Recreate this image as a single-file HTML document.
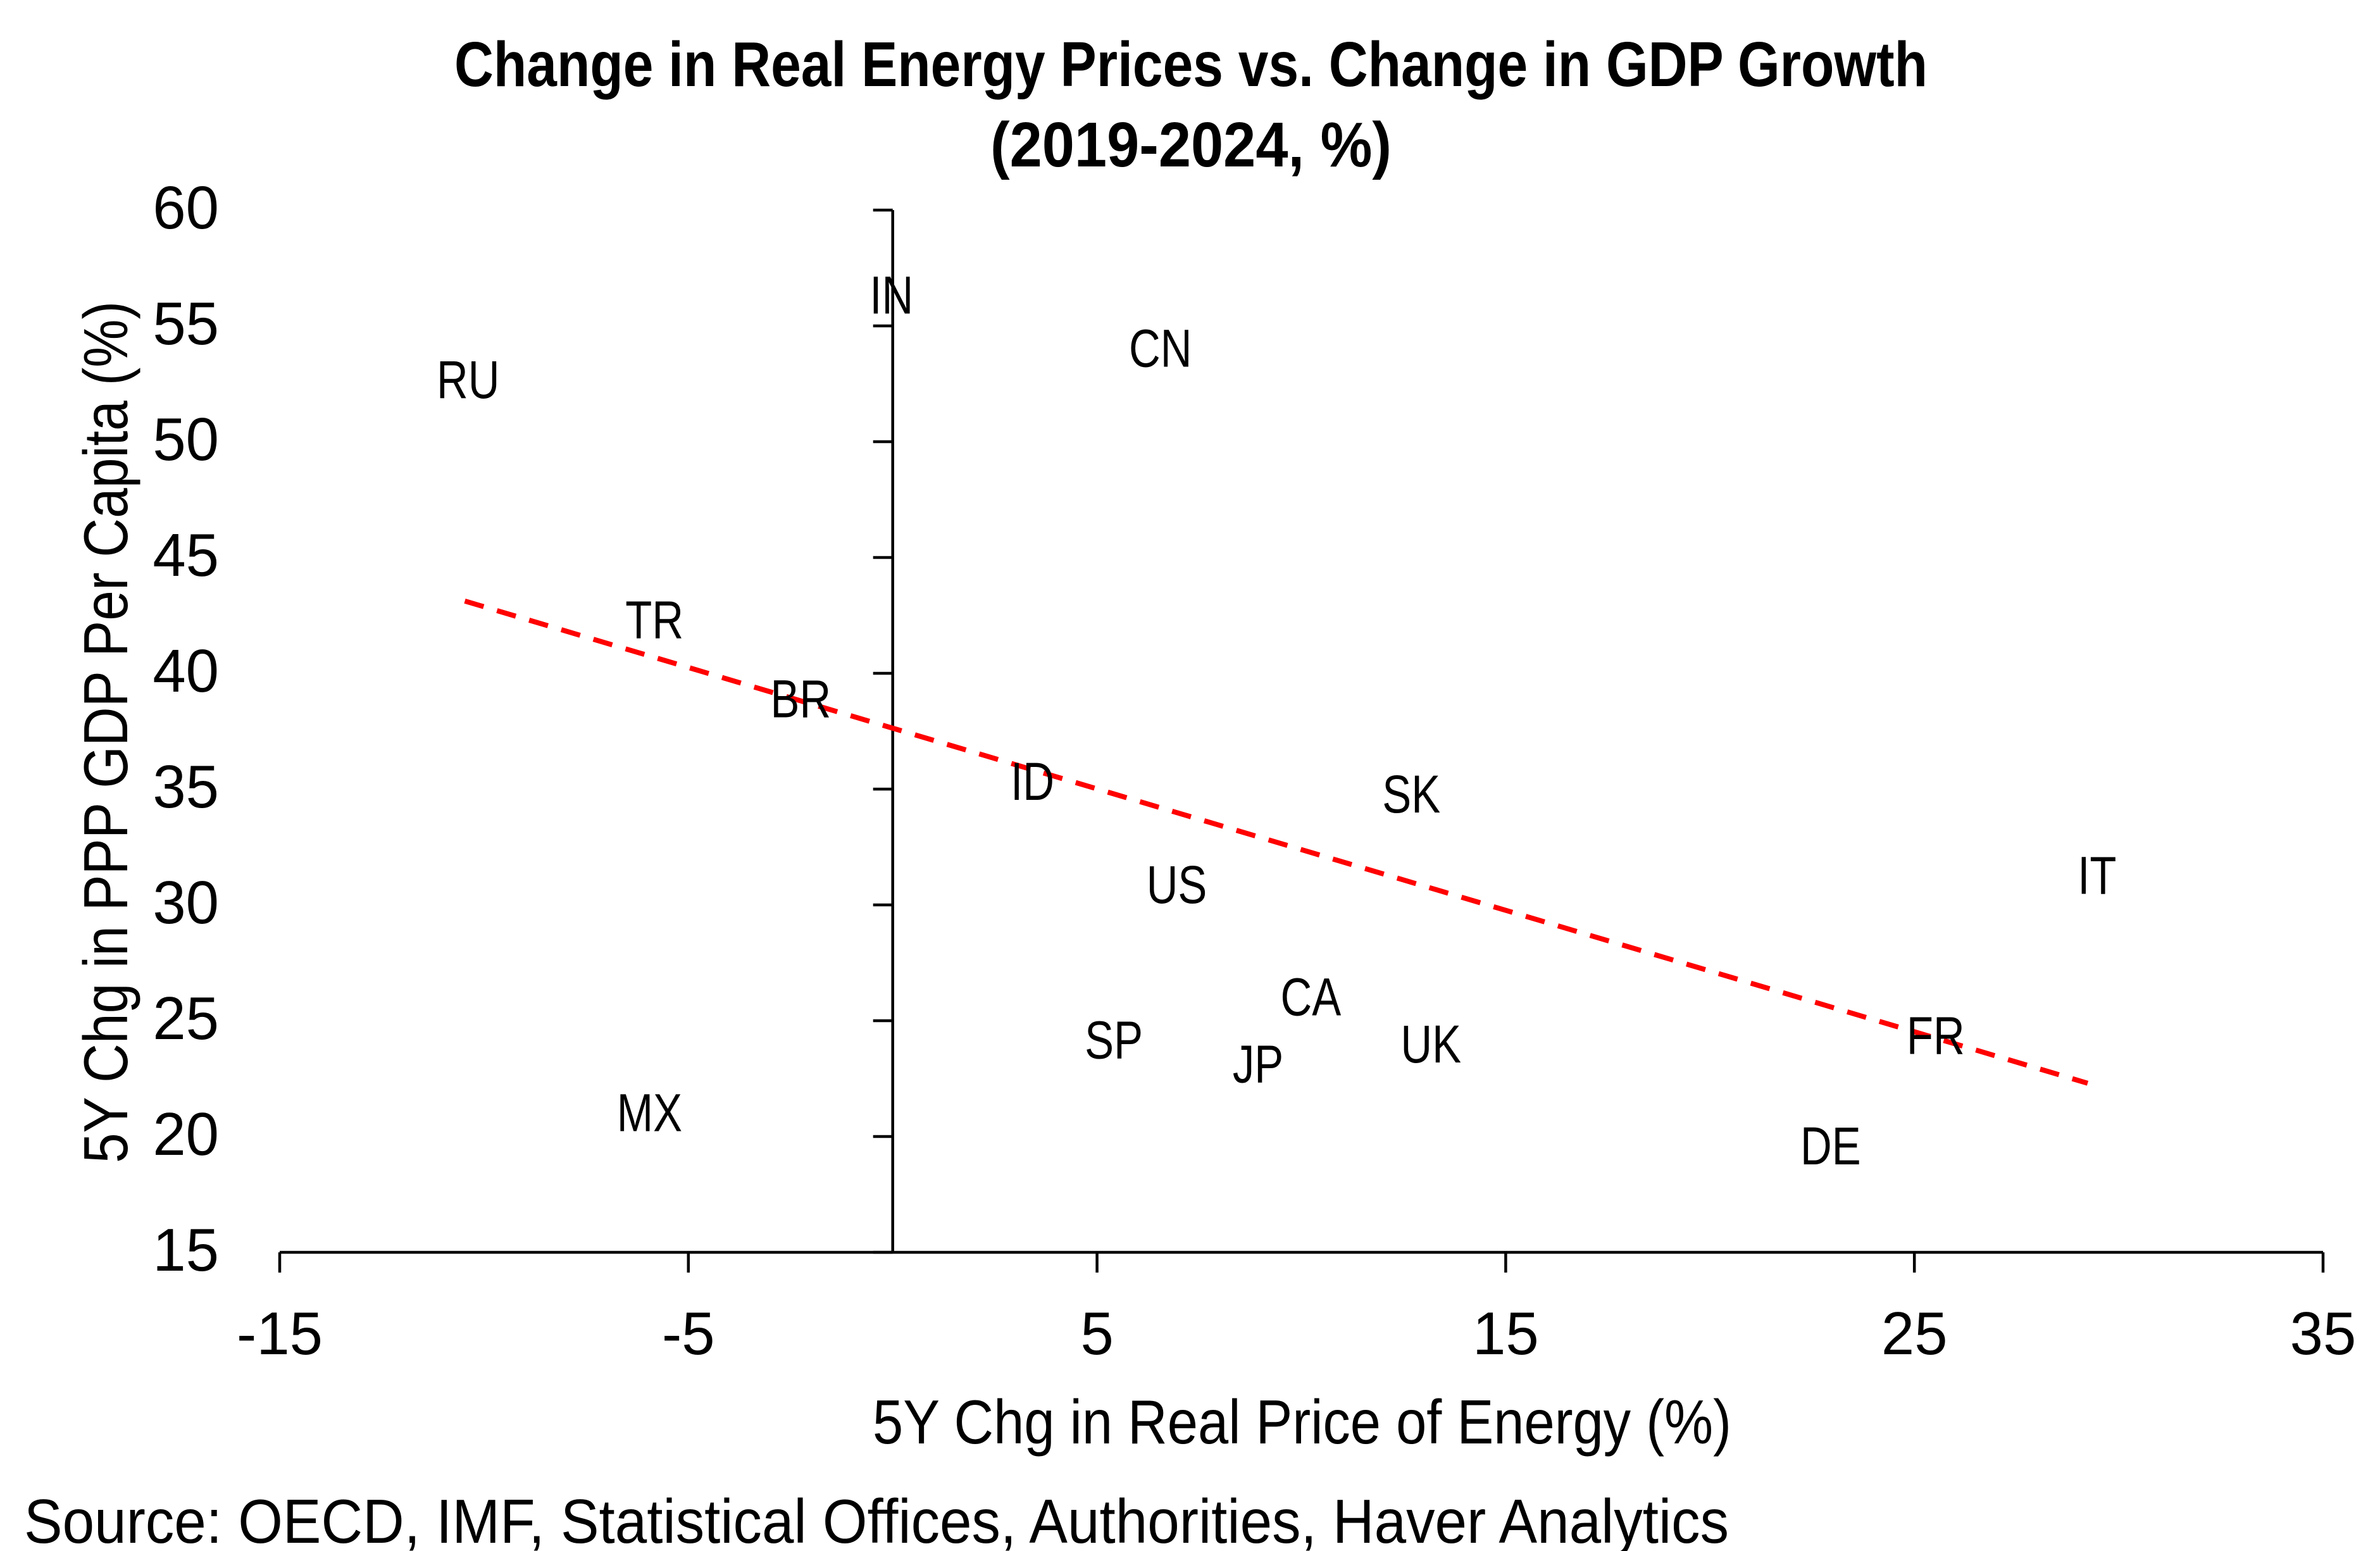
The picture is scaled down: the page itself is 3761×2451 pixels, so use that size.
<!DOCTYPE html>
<html lang="en">
<head>
<meta charset="utf-8">
<title>Change in Real Energy Prices vs. Change in GDP Growth</title>
<style>
  html, body { margin: 0; padding: 0; background: #fff; }
  svg { display: block; }
  text { font-family: "Liberation Sans", sans-serif; fill: #000; }
</style>
</head>
<body>
<svg id="chart" xmlns="http://www.w3.org/2000/svg" width="3761" height="2451" viewBox="0 0 3761 2451">
  <rect width="3761" height="2451" fill="#fff"/>
  <text x="718" y="136" font-size="100" font-weight="700" textLength="2328" lengthAdjust="spacingAndGlyphs">Change in Real Energy Prices vs. Change in GDP Growth</text>
  <text x="1565" y="263" font-size="100" font-weight="700" textLength="634" lengthAdjust="spacingAndGlyphs">(2019-2024, %)</text>
  <text transform="translate(201,1838) rotate(-90)" font-size="98" textLength="1362" lengthAdjust="spacingAndGlyphs">5Y Chg in PPP GDP Per Capita (%)</text>
  <text x="1379" y="2281" font-size="98" textLength="1357" lengthAdjust="spacingAndGlyphs">5Y Chg in Real Price of Energy (%)</text>
  <text x="38" y="2438" font-size="98" textLength="2694" lengthAdjust="spacingAndGlyphs">Source: OECD, IMF, Statistical Offices, Authorities, Haver Analytics</text>
  <g id="axes"></g>
  <g id="trend"></g>
  <g id="points"></g>
</svg>
<script>
const countries = ["RU","IN","CN","TR","BR","ID","SK","US","IT","CA","UK","JP","SP","FR","DE","MX"];
const energyChange = [-10.39,-0.03,6.55,-5.83,-2.25,3.42,12.69,6.95,29.47,10.23,13.17,8.94,5.41,25.52,22.95,-5.95];
const gdpChange = [52.65,56.3,54.0,42.28,38.87,35.3,34.75,30.85,31.25,26.0,23.96,23.1,24.14,24.33,19.56,21.0];
const trendX = [-10.47,29.24];
const trendY = [43.12,22.3];
const xTicks = [-15,-5,5,15,25,35];
const yTicks = [60,55,50,45,40,35,30,25,20,15];

const NS = "http://www.w3.org/2000/svg";
const xMin = -15, xMax = 35, yMin = 15, yMax = 60;
const left = 442, right = 3671, top_ = 332, bottom = 1979;
function sx(v) { return left + (v - xMin) / (xMax - xMin) * (right - left); }
function sy(v) { return bottom - (v - yMin) / (yMax - yMin) * (bottom - top_); }
function mk(tag, attrs, parent) {
  const el = document.createElementNS(NS, tag);
  for (const k in attrs) el.setAttribute(k, attrs[k]);
  parent.appendChild(el);
  return el;
}
const axes = document.getElementById("axes");
const axisStyle = { stroke: "#000", "stroke-width": 4.5, fill: "none" };

const xLine = mk("line", Object.assign({ x1: sx(xMin), x2: sx(xMax), y1: sy(yMin), y2: sy(yMin) }, axisStyle), axes);


const yLine = mk("line", Object.assign({ x1: sx(0), x2: sx(0), y1: sy(yMax), y2: sy(yMin) }, axisStyle), axes);



xTicks.forEach(function (t) {
  const tick = mk("line", Object.assign({ x1: sx(t), x2: sx(t), y1: sy(yMin), y2: sy(yMin) + 32 }, axisStyle), axes);
  
  
  const label = mk("text", { transform: "translate(" + sx(t) + ",2140) scale(0.98,1)", "font-size": 96, "text-anchor": "middle" }, axes);
  label.textContent = String(t);
  
  
});
yTicks.forEach(function (t) {
  const tick = mk("line", Object.assign({ x1: sx(0) - 31, x2: sx(0), y1: sy(t), y2: sy(t) }, axisStyle), axes);
  
  
  const label = mk("text", { transform: "translate(346," + (sy(t) + 29) + ") scale(0.98,1)", "font-size": 96, "text-anchor": "end" }, axes);
  label.textContent = String(t);
  
  
});

const trendline = mk("line", {
  x1: sx(trendX[0]), y1: sy(trendY[0]), x2: sx(trendX[1]), y2: sy(trendY[1]),
  stroke: "#ff0000", "stroke-width": 8, "stroke-dasharray": "31 22", fill: "none"
}, document.getElementById("trend"));



const pts = document.getElementById("points");
countries.forEach(function (c, i) {
  const label = mk("text", {
    transform: "translate(" + sx(energyChange[i]) + "," + (sy(gdpChange[i]) + 28) + ") scale(0.82,1)",
    "font-size": 84, "text-anchor": "middle"
  }, pts);
  label.textContent = c;
  
  
});
</script>
</body>
</html>
